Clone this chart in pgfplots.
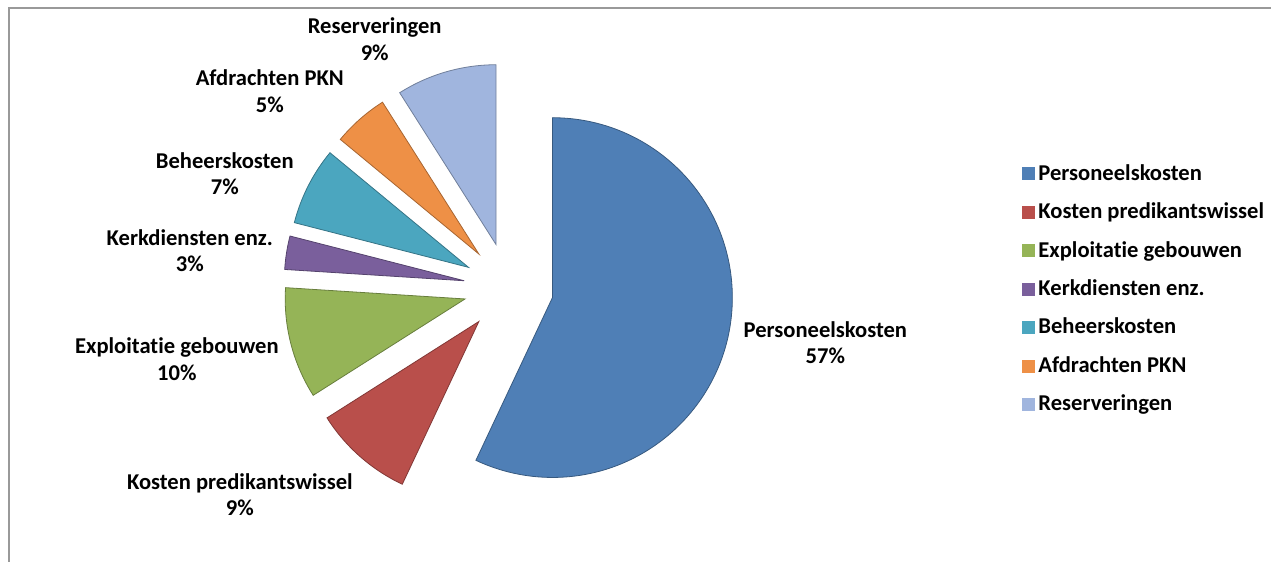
\documentclass[border=0pt]{standalone}
\usepackage{fontspec}
\setmainfont{Carlito}[RawFeature={-liga;-clig;-calt;-dlig}]
\usepackage{pgfplots}
\usepackage{pgfplotstable}
\pgfplotsset{compat=1.18}
\definecolor{c1}{HTML}{4F7FB6}
\definecolor{c2}{HTML}{B94F4B}
\definecolor{c3}{HTML}{95B457}
\definecolor{c4}{HTML}{7A5F9C}
\definecolor{c5}{HTML}{4BA6BF}
\definecolor{c6}{HTML}{EE9046}
\definecolor{c7}{HTML}{A0B5DE}
\pgfplotstableread[col sep=comma]{
label,value,color
Personeelskosten,57,c1
Kosten predikantswissel,9,c2
Exploitatie gebouwen,10,c3
Kerkdiensten enz.,3,c4
Beheerskosten,7,c5
Afdrachten PKN,5,c6
Reserveringen,9,c7
}\piedata
\begin{document}
\begin{tikzpicture}
\begin{axis}[
  width=636pt, height=281pt, scale only axis,
  xmin=0, xmax=1272, ymin=0, ymax=562,
  hide axis, clip=false,
  legend style={at={(rel axis cs:0.8035,0.715)}, anchor=north west, draw=none,
    font=\bfseries\fontsize{11.3}{13}\selectfont, row sep=5.8pt, inner sep=0pt,
    legend cell align=left},
  legend image code/.code={\fill[#1] (0pt,-3pt) rectangle (6pt,3pt);},
]
\path (axis cs:0,0) rectangle (axis cs:1272,562);
\draw[gray!80, line width=1pt] (axis cs:9,0) -- (axis cs:9,553.5) -- (axis cs:1272,553.5);
\def\cx{509}\def\cy{274}\def\dd{45}
\gdef\cum{0}
\pgfplotsinvokeforeach{0,...,6}{
  \pgfplotstablegetelem{#1}{value}\of\piedata \let\v\pgfplotsretval
  \pgfplotstablegetelem{#1}{color}\of\piedata \let\col\pgfplotsretval
  \pgfmathsetmacro\sa{90-3.6*\cum}
  \pgfmathsetmacro\ea{90-3.6*(\cum+\v)}
  \pgfmathsetmacro\ma{(\sa+\ea)/2}
  \pgfmathsetmacro\ax{\cx+\dd*cos(\ma)}
  \pgfmathsetmacro\ay{\cy+\dd*sin(\ma)}
  \edef\tmp{\noexpand\fill[fill=\col, draw=\col!70!black, line width=0.4pt]
    (axis cs:\ax,\ay) -- ++(\sa:90pt) arc[start angle=\sa, end angle=\ea, radius=90pt] -- cycle;}
  \tmp
  \pgfmathparse{\cum+\v}\xdef\cum{\pgfmathresult}
}
\addlegendimage{legend image code/.code={\fill[c1] (0pt,-3pt) rectangle (6pt,3pt);}}
\addlegendentry{Personeelskosten}
\addlegendimage{legend image code/.code={\fill[c2] (0pt,-3pt) rectangle (6pt,3pt);}}
\addlegendentry{Kosten predikantswissel}
\addlegendimage{legend image code/.code={\fill[c3] (0pt,-3pt) rectangle (6pt,3pt);}}
\addlegendentry{Exploitatie gebouwen}
\addlegendimage{legend image code/.code={\fill[c4] (0pt,-3pt) rectangle (6pt,3pt);}}
\addlegendentry{Kerkdiensten enz.}
\addlegendimage{legend image code/.code={\fill[c5] (0pt,-3pt) rectangle (6pt,3pt);}}
\addlegendentry{Beheerskosten}
\addlegendimage{legend image code/.code={\fill[c6] (0pt,-3pt) rectangle (6pt,3pt);}}
\addlegendentry{Afdrachten PKN}
\addlegendimage{legend image code/.code={\fill[c7] (0pt,-3pt) rectangle (6pt,3pt);}}
\addlegendentry{Reserveringen}
\tikzset{lbl/.style={align=center, font=\bfseries\fontsize{11.3}{13.3}\selectfont, inner sep=0pt}}
\node[lbl] at (axis cs:826,219) {Personeelskosten\\57\%};
\node[lbl] at (axis cs:240,67) {Kosten predikantswissel\\9\%};
\node[lbl] at (axis cs:177,202.5) {Exploitatie gebouwen\\10\%};
\node[lbl] at (axis cs:190,311) {Kerkdiensten enz.\\3\%};
\node[lbl] at (axis cs:225,388) {Beheerskosten\\7\%};
\node[lbl] at (axis cs:270,471) {Afdrachten PKN\\5\%};
\node[lbl] at (axis cs:375,523) {Reserveringen\\9\%};
\end{axis}
\end{tikzpicture}
\end{document}
